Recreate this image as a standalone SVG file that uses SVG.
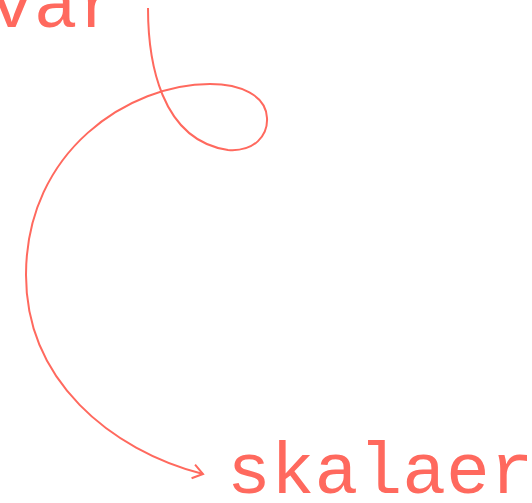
<svg xmlns="http://www.w3.org/2000/svg" width="532" height="503" viewBox="0 0 532 503">
<style>
.lbl{font-family:"Liberation Mono","Courier New",monospace;font-size:73px;fill:#ff695e}
.edge{fill:none;stroke:#ff695e;stroke-width:2}
</style>
<defs>
<marker id="arr" markerWidth="16" markerHeight="16" refX="13" refY="8" orient="auto" markerUnits="userSpaceOnUse">
<path d="M3,1 L13,8 L3,15" fill="none" stroke="#ff695e" stroke-width="2"/>
</marker>
</defs>
<rect width="532" height="503" fill="#fff"/>
<g id="var"><text class="lbl" x="-10" y="27">var</text></g>
<g id="skalaer"><text class="lbl" x="227" y="493">skalaer</text></g>
<g id="connectors">
<path class="edge" marker-end="url(#arr)" d="M148,8 C148,60 160,140 228,150 C255,152 268,135 267,118 C266,95 240,84 210,84 C130,84 26,150 26,275 C26,380 110,450 203,474"/>
</g>
</svg>
